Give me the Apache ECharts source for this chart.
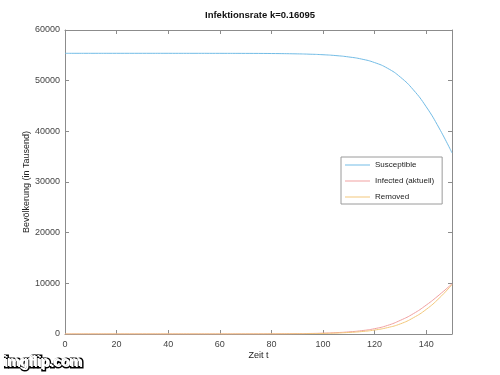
<!DOCTYPE html>
<html><head><meta charset="utf-8">
<script src="https://cdn.jsdelivr.net/npm/echarts@6/dist/echarts.min.js"></script>
<style>html,body{margin:0;padding:0;background:#fff}#c{width:500px;height:375px}</style>
</head><body><div id="c"></div>
<script>
const t = [0, 10, 20, 30, 40, 50, 60, 70, 80, 90, 95, 100, 105, 110, 115, 120, 125, 130, 135, 140, 145, 150];
const susceptible = [55400, 55400, 55400, 55400, 55399, 55397, 55393, 55383, 55358, 55290, 55223, 55120, 54950, 54680, 54260, 53570, 52450, 50700, 48200, 44850, 40650, 35750];
const infected = [0.01, 0.03, 0.1, 0.2, 0.6, 1.5, 4, 10, 25, 65, 105, 165, 265, 420, 660, 1050, 1690, 2700, 4000, 5700, 7700, 9900];
const removed = [0, 0.02, 0.05, 0.15, 0.4, 1, 3, 7, 17, 45, 72, 115, 185, 300, 480, 780, 1260, 2000, 3200, 4850, 7050, 9750];
const seriesNames = ['Susceptible', 'Infected (aktuell)', 'Removed'];
const titleText = 'Infektionsrate k=0.16095';
const xName = 'Zeit t';
const yName = 'Bevölkerung (in Tausend)';

const pairs = arr => t.map((x, i) => [x, arr[i]]);
const colors = ['#72bce6', '#f0a0a0', '#f2c77a'];
const axisGray = '#8c8c8c';
const font = 'Liberation Sans, Arial, sans-serif';

const baseAxis = {
  type: 'value',
  splitLine: { show: false },
  axisLine: { show: true, onZero: false, lineStyle: { color: axisGray, width: 1 } },
  axisTick: { show: true, inside: true, length: 4, lineStyle: { color: axisGray } }
};

const chart = echarts.init(document.getElementById('c'), null, { renderer: 'canvas' });
chart.setOption({
  animation: false,
  backgroundColor: '#fff',
  textStyle: { fontFamily: font },
  title: {
    text: titleText,
    left: 200, top: 5,
    textStyle: { fontSize: 9.5, fontWeight: 'bold', color: '#111', fontFamily: font }
  },
  grid: { left: 65, right: 48, top: 30, bottom: 41, containLabel: false },
  legend: {
    orient: 'vertical',
    left: 341, top: 157,
    padding: [4, 8, 3, 4],
    icon: 'rect',
    itemWidth: 25, itemHeight: 1, itemGap: 8,
    backgroundColor: '#fff',
    borderColor: '#9a9a9a', borderWidth: 1,
    textStyle: { fontSize: 8, color: '#222', fontFamily: font, lineHeight: 8 },
    data: seriesNames
  },
  xAxis: [
    Object.assign({}, baseAxis, {
      min: 0, max: 150, interval: 20, position: 'bottom',
      axisLabel: { color: '#444', fontSize: 9, margin: 6, showMaxLabel: false, fontFamily: font },
      name: xName, nameLocation: 'middle', nameGap: 17, nameMoveOverlap: false,
      nameTextStyle: { color: '#222', fontSize: 9, fontFamily: font }
    }),
    Object.assign({}, baseAxis, {
      min: 0, max: 150, interval: 20, position: 'top',
      axisLabel: { show: false }
    })
  ],
  yAxis: [
    Object.assign({}, baseAxis, {
      min: 0, max: 60000, interval: 10000, position: 'left',
      axisLabel: { color: '#444', fontSize: 9, margin: 5, fontFamily: font, formatter: v => String(v) },
      name: yName, nameLocation: 'middle', nameGap: 34, nameRotate: 90, nameMoveOverlap: false,
      nameTextStyle: { color: '#222', fontSize: 9, fontFamily: font }
    }),
    Object.assign({}, baseAxis, {
      min: 0, max: 60000, interval: 10000, position: 'right',
      axisLabel: { show: false }
    })
  ],
  series: [
    { name: seriesNames[0], type: 'line', data: pairs(susceptible), smooth: true, symbol: 'none', color: colors[0], lineStyle: { width: 1, color: colors[0] } },
    { name: seriesNames[1], type: 'line', data: pairs(infected), smooth: true, symbol: 'none', color: colors[1], lineStyle: { width: 1, color: colors[1] } },
    { name: seriesNames[2], type: 'line', data: pairs(removed), smooth: true, symbol: 'none', color: colors[2], lineStyle: { width: 1, color: colors[2] } }
  ],
  graphic: [{
    type: 'text', left: 3, top: 355,
    style: { text: 'imgflip.com', font: 'bold 14px ' + font, fill: '#fff', stroke: '#000', lineWidth: 3 }
  }, {
    type: 'text', left: 3, top: 355,
    style: { text: 'imgflip.com', font: 'bold 14px ' + font, fill: '#fff' }
  }]
});
</script>
</body></html>
